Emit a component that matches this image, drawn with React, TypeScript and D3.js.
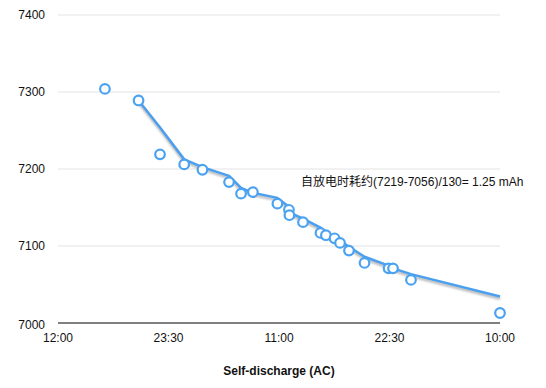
import { useRef, useEffect } from "react";
import * as d3 from "d3";

// readings: day-of-test + clock time, capacity in mAh
const times = [
  "01 16:53", "01 20:23", "01 22:37", "02 01:08", "02 03:02", "02 05:48",
  "02 07:03", "02 08:17", "02 10:50", "02 12:02", "02 12:05", "02 13:30",
  "02 15:19", "02 15:53", "02 16:47", "02 17:21", "02 18:17", "02 19:54",
  "02 22:24", "02 22:52", "03 00:44", "03 10:00",
];
const capacity = [
  7304, 7289, 7219, 7206, 7199, 7183, 7168, 7170, 7155, 7147, 7140, 7131,
  7117, 7114, 7110, 7104, 7094, 7078, 7071, 7071, 7056, 7013,
];
const xTicks = ["01 12:00", "01 23:30", "02 11:00", "02 22:30", "03 10:00"];
const yTicks = [7000, 7100, 7200, 7300, 7400];
const xTitle = "Self-discharge (AC)";
const note = "自放电时耗约(7219-7056)/130= 1.25 mAh";

const width = 546;
const height = 388;
const font = "'Liberation Sans', Arial, Helvetica, sans-serif";

function App() {
  const svgRef = useRef(null);

  useEffect(() => {
    const parse = d3.timeParse("%d %H:%M");
    const data = times.map((t, i) => ({ t: parse(t), v: capacity[i] }));
    const ticks = xTicks.map((t) => parse(t));

    const svg = d3.select(svgRef.current);
    svg.selectAll("*").remove();

    const defs = svg.append("defs");
    defs
      .append("filter")
      .attr("id", "soft")
      .attr("x", "-5%")
      .attr("y", "-20%")
      .attr("width", "110%")
      .attr("height", "140%")
      .append("feGaussianBlur")
      .attr("stdDeviation", 1.2);

    const x = d3
      .scaleTime()
      .domain([ticks[0], ticks[ticks.length - 1]])
      .range([58, 500]);
    const y = d3.scaleLinear().domain([7000, 7400]).range([323, 15]);

    // grid
    svg
      .append("g")
      .selectAll("line")
      .data(yTicks.slice(1))
      .join("line")
      .attr("x1", x.range()[0])
      .attr("x2", x.range()[1])
      .attr("y1", (d) => y(d))
      .attr("y2", (d) => y(d))
      .attr("stroke", "#e3e3e3")
      .attr("stroke-width", 1);

    // y labels
    svg
      .append("g")
      .selectAll("text")
      .data(yTicks)
      .join("text")
      .attr("x", 45)
      .attr("y", (d) => y(d) + (d === 7000 ? 2 : 0))
      .attr("dy", "0.35em")
      .attr("text-anchor", "end")
      .attr("font-family", font)
      .attr("font-size", 12)
      .attr("fill", "#111")
      .text((d) => d);

    // baseline
    svg
      .append("line")
      .attr("x1", x.range()[0])
      .attr("x2", x.range()[1])
      .attr("y1", y(7000))
      .attr("y2", y(7000))
      .attr("stroke", "#000")
      .attr("stroke-width", 1);

    // x labels
    svg
      .append("g")
      .selectAll("text")
      .data(ticks)
      .join("text")
      .attr("x", (d) => x(d))
      .attr("y", 338)
      .attr("dy", "0.35em")
      .attr("text-anchor", "middle")
      .attr("font-family", font)
      .attr("font-size", 12)
      .attr("fill", "#111")
      .text((d) => d3.timeFormat("%H:%M")(d));

    svg
      .append("text")
      .attr("x", 279)
      .attr("y", 371)
      .attr("dy", "0.35em")
      .attr("text-anchor", "middle")
      .attr("font-family", font)
      .attr("font-size", 12)
      .attr("font-weight", "bold")
      .attr("fill", "#111")
      .text(xTitle);

    // moving average (period 2), starting at the second reading
    const series = data.slice(1);
    const trend = series.map((d, i) =>
      i === 0 ? d : { t: d.t, v: (series[i - 1].v + d.v) / 2 }
    );

    const line = d3
      .line()
      .x((d) => x(d.t))
      .y((d) => y(d.v));

    svg
      .append("path")
      .datum(trend)
      .attr("d", line)
      .attr("transform", "translate(0,2)")
      .attr("fill", "none")
      .attr("stroke", "#b0b0b0")
      .attr("stroke-width", 2.5)
      .attr("stroke-linejoin", "round")
      .attr("filter", "url(#soft)");

    svg
      .append("path")
      .datum(trend)
      .attr("d", line)
      .attr("fill", "none")
      .attr("stroke", "#4a9fee")
      .attr("stroke-width", 2.5)
      .attr("stroke-linejoin", "round");

    svg
      .append("g")
      .selectAll("circle")
      .data(data)
      .join("circle")
      .attr("cx", (d) => x(d.t))
      .attr("cy", (d) => y(d.v))
      .attr("r", 4.8)
      .attr("fill", "#fff")
      .attr("stroke", "#4aa2f0")
      .attr("stroke-width", 2.2);

    svg
      .append("text")
      .attr("x", 301)
      .attr("y", 182)
      .attr("dy", "0.35em")
      .attr("font-family", "'Liberation Sans', Arial, 'Noto Sans CJK SC', sans-serif")
      .attr("font-size", 12)
      .attr("fill", "#111")
      .text(note);
  }, []);

  return (
    <svg
      ref={svgRef}
      width={width}
      height={height}
      style={{ position: "absolute", left: 0, top: 0, background: "#fff" }}
    />
  );
}

export default App;
